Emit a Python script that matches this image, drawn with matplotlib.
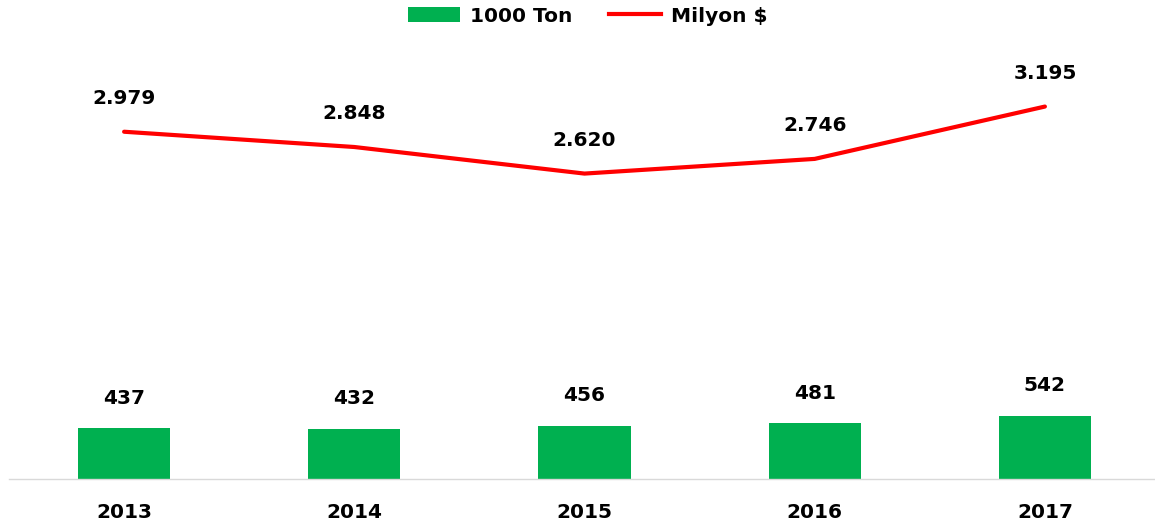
import matplotlib
matplotlib.use("Agg")
import matplotlib.pyplot as plt
from matplotlib.lines import Line2D
from matplotlib.patches import Patch

years = ["2013", "2014", "2015", "2016", "2017"]
ton_1000 = [437, 432, 456, 481, 542]
milyon_usd = [2979, 2848, 2620, 2746, 3195]
ton_labels = ["437", "432", "456", "481", "542"]
usd_labels = ["2.979", "2.848", "2.620", "2.746", "3.195"]

GREEN = "#00B050"
RED = "#FF0000"
FONT = "DejaVu Sans"
FS = 14.5

W, H = 1155, 528
fig = plt.figure(figsize=(W / 100, H / 100), dpi=100)
ax = fig.add_axes([9 / W, 49 / H, 1151 / W, 408 / H])

x = list(range(len(years)))
ax.bar(x, ton_1000, width=0.4, color=GREEN, zorder=2)
ax.plot(x, milyon_usd, color=RED, lw=3, solid_capstyle="round", zorder=3)

ax.set_xlim(-0.5, len(years) - 0.5)
ax.set_ylim(0, 3500)

for xi, v, lab in zip(x, ton_1000, ton_labels):
    ax.annotate(lab, (xi, v), xytext=(0, 21.5), textcoords="offset points",
                ha="center", va="center", fontsize=FS, fontweight="bold",
                family=FONT, color="black")
for xi, v, lab in zip(x, milyon_usd, usd_labels):
    ax.annotate(lab, (xi, v), xytext=(0, 24), textcoords="offset points",
                ha="center", va="center", fontsize=FS, fontweight="bold",
                family=FONT, color="black")

for s in ["top", "right", "left"]:
    ax.spines[s].set_visible(False)
ax.spines["bottom"].set_color("#D9D9D9")
ax.spines["bottom"].set_linewidth(1)
ax.set_yticks([])
ax.set_xticks(x)
ax.set_xticklabels(years, fontsize=FS, fontweight="bold", family=FONT)
ax.tick_params(axis="x", length=0, pad=17)

handles = [Patch(facecolor=GREEN, edgecolor="none", label="1000 Ton"),
           Line2D([0], [0], color=RED, lw=3, label="Milyon $")]
fig.legend(handles=handles, loc="center", bbox_to_anchor=(588 / W, 1 - 16 / H),
           ncol=2, frameon=False, prop={"family": FONT, "weight": "bold", "size": FS},
           handlelength=2.6, handleheight=0.75, columnspacing=1.8, handletextpad=0.5)

fig.savefig("out.png", dpi=100)
